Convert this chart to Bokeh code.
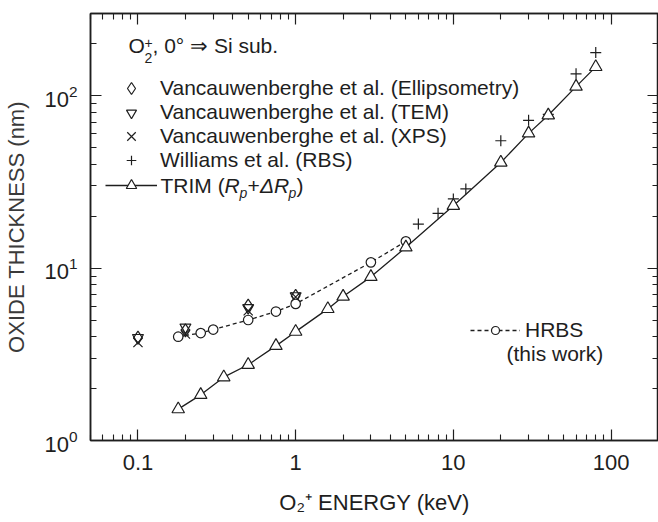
import math
from bokeh.plotting import figure
from bokeh.models import (LogAxis, FixedTicker, CustomJSTickFormatter, LogTickFormatter,
                          Label, Legend, LegendItem, Range1d)
from bokeh.embed import file_html
from bokeh.resources import INLINE

# ---------------- data ----------------
trim_E = [0.18, 0.25, 0.35, 0.5, 0.75, 1.0, 1.6, 2.0, 3.0, 5.0, 10, 20, 30, 40, 60, 80]
trim_T = [1.52, 1.84, 2.33, 2.75, 3.54, 4.28, 5.8, 6.84, 8.9, 13.2, 23, 41, 60.5, 77, 113, 147]

hrbs_E = [0.18, 0.25, 0.3, 0.5, 0.75, 1.0, 3.0, 5.0]
hrbs_T = [4.0, 4.2, 4.4, 5.0, 5.6, 6.2, 10.8, 14.3]

vanc_E = [0.1, 0.2, 0.5, 1.0]
ellip_T = [3.95, 4.35, 6.06, 6.9]
tem_T = [3.95, 4.54, 5.88, 6.9]
xps_T = [3.7, 4.15, 5.66, 6.8]

will_E = [6, 8, 10, 12, 20, 30, 40, 60, 80]
will_T = [18.0, 20.8, 25.2, 28.8, 54.8, 72, 78, 134, 178]

x_major = [0.1, 1, 10, 100]
x_minor = [0.05, 0.06, 0.07, 0.08, 0.09, 0.2, 0.3, 0.4, 0.5, 0.6, 0.7, 0.8, 0.9,
           2, 3, 4, 5, 6, 7, 8, 9, 20, 30, 40, 50, 60, 70, 80, 90, 200]
y_major = [1, 10, 100]
y_minor = [2, 3, 4, 5, 6, 7, 8, 9, 20, 30, 40, 50, 60, 70, 80, 90, 200, 300]

FONT = "Liberation Sans"
INK = "#1e1e1e"

p = figure(width=658, height=522, x_axis_type="log", y_axis_type="log",
           x_range=Range1d(0.05, 200), y_range=Range1d(1, 300),
           output_backend="svg", toolbar_location=None,
           min_border_left=90, min_border_right=0, min_border_top=13,
           min_border_bottom=82)
p.grid.visible = False
p.outline_line_color = INK
p.outline_line_width = 1.5
p.background_fill_color = "white"
p.border_fill_color = "white"


def style_axis(ax, show_labels):
    ax.axis_line_color = INK
    ax.axis_line_width = 1.5
    ax.major_tick_in = 11
    ax.major_tick_out = 0
    ax.minor_tick_in = 6
    ax.minor_tick_out = 0
    ax.major_tick_line_color = INK
    ax.minor_tick_line_color = INK
    ax.major_tick_line_width = 1.2
    ax.minor_tick_line_width = 1.1
    if not show_labels:
        ax.formatter = CustomJSTickFormatter(code="return '';")
        ax.major_label_standoff = 0
        ax.major_label_text_font_size = "0px"


xb = p.xaxis[0]
xb.ticker = FixedTicker(ticks=x_major, minor_ticks=x_minor)
style_axis(xb, True)
xb.formatter = CustomJSTickFormatter(code="return tick < 1 ? tick.toFixed(1) : tick.toFixed(0);")
xb.major_label_text_font = FONT
xb.major_label_text_font_size = "22px"
xb.major_label_text_color = INK
xb.major_label_standoff = 14
xb.axis_label = "O\u2082\u207a ENERGY (keV)"
xb.axis_label_text_font = FONT
xb.axis_label_text_font_size = "22px"
xb.axis_label_text_font_style = "normal"
xb.axis_label_text_color = INK
xb.axis_label_standoff = 17

yl = p.yaxis[0]
yl.ticker = FixedTicker(ticks=y_major, minor_ticks=y_minor)
style_axis(yl, True)
yl.formatter = LogTickFormatter()
yl.major_label_text_font = FONT
yl.major_label_text_font_size = "22px"
yl.major_label_text_color = INK
yl.major_label_standoff = 13
yl.axis_label = "OXIDE THICKNESS (nm)"
yl.axis_label_text_font = FONT
yl.axis_label_text_font_size = "22px"
yl.axis_label_text_font_style = "normal"
yl.axis_label_text_color = "#3a3a3a"
yl.axis_label_standoff = 12

xt = LogAxis(ticker=FixedTicker(ticks=x_major, minor_ticks=x_minor))
style_axis(xt, False)
p.add_layout(xt, "above")
yr = LogAxis(ticker=FixedTicker(ticks=y_major, minor_ticks=y_minor))
style_axis(yr, False)
p.add_layout(yr, "right")

# ---------------- glyphs ----------------
r_ell = p.scatter(vanc_E, ellip_T, marker="diamond", size=13,
                  fill_color=None, line_color=INK, line_width=1.2)
r_tem = p.scatter(vanc_E, tem_T, marker="inverted_triangle", size=11, fill_color=None,
                  line_color=INK, line_width=1.2)
r_xps = p.scatter(vanc_E, xps_T, marker="x", size=13, line_color=INK, line_width=1.2)
r_will = p.scatter(will_E, will_T, marker="cross", size=11, line_color=INK, line_width=1.2)

hr_line = p.line(hrbs_E, hrbs_T, line_color=INK, line_width=1.3, line_dash="4 3")
hr_pts = p.scatter(hrbs_E, hrbs_T, marker="circle", size=9.5, fill_color="white",
                   line_color=INK, line_width=1.2)
tr_line = p.line(trim_E, trim_T, line_color=INK, line_width=1.3)
tr_pts = p.scatter(trim_E, trim_T, marker="triangle", size=12.5, fill_color="white",
                   line_color=INK, line_width=1.2)


# ---------------- legends (one per row so each marker gets its own size) -------
def add_legend(label, renderers, x0, cy, gw, gh, so):
    h = max(gh, 24)
    lg = Legend(items=[LegendItem(label=label, renderers=renderers)],
                location=(x0 - 90, 440 - (cy + h / 2.0)))
    lg.border_line_color = None
    lg.background_fill_alpha = 0
    lg.padding = 0
    lg.margin = 0
    lg.spacing = 0
    lg.glyph_width = gw
    lg.glyph_height = gh
    lg.label_height = 20
    lg.label_standoff = so
    lg.label_text_font = FONT
    lg.label_text_font_size = "21px"
    lg.label_text_color = INK
    lg.label_text_baseline = "middle"
    p.add_layout(lg)


add_legend("Vancauwenberghe et al. (Ellipsometry)", [r_ell], 105, 88, 52, 30, 3)
add_legend("Vancauwenberghe et al. (TEM)", [r_tem], 105, 112, 52, 25, 3)
add_legend("Vancauwenberghe et al. (XPS)", [r_xps], 105, 136, 52, 30, 3)
add_legend("Williams et al. (RBS)", [r_will], 105, 160, 52, 24, 3)
add_legend(" ", [tr_line, tr_pts], 105, 185, 52, 26, 3)
add_legend("HRBS", [hr_line, hr_pts], 470, 330, 50, 20, 5)


def lab(text, cx, cy, size=21, align="left", style="normal", angle=0.0):
    p.add_layout(Label(x=cx - 90, y=440 - cy, x_units="screen", y_units="screen",
                       text=text, text_font=FONT, text_font_size=f"{size}px",
                       text_align=align, text_baseline="middle", text_color=INK,
                       text_font_style=style, angle=angle))


# header line: O2+, 0° => Si sub.
lab("O", 128, 45)
lab("2", 144, 57, 14)
lab("+", 144, 42, 14)
lab(", 0\u00b0 \u21d2 Si sub.", 152, 45)

# TRIM (Rp + ΔRp)
ty = 185
lab("TRIM (", 160, ty)
lab("R", 224, ty, style="italic")
lab("p", 239, ty + 7, 14, style="italic")
lab("+", 247, ty)
lab("\u0394R", 259.5, ty, style="italic")
lab("p", 288, ty + 7, 14, style="italic")
lab(")", 296, ty)

# HRBS second line
lab("(this work)", 506, 353)

open("out.html", "w").write(file_html(p, INLINE))
